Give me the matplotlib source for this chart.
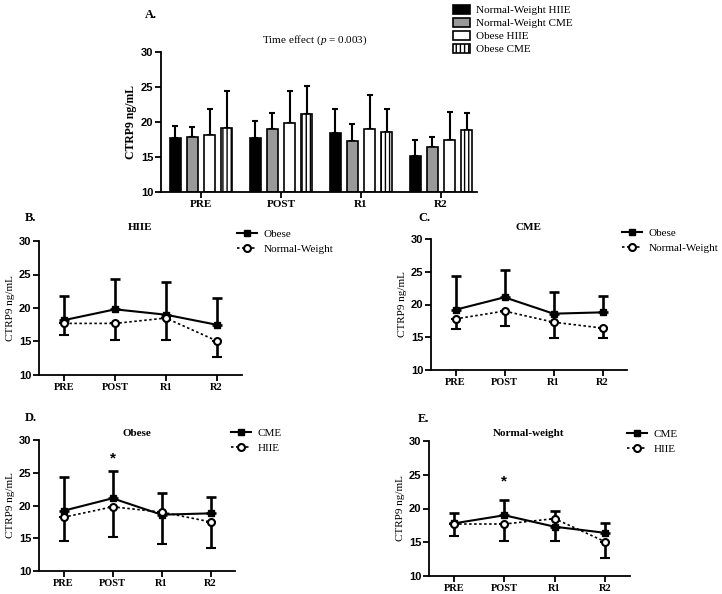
import matplotlib
matplotlib.use("Agg")
import matplotlib.pyplot as plt
import numpy as np
from matplotlib.patches import Patch
from matplotlib.lines import Line2D

# ---------------- data ----------------
times = ["PRE", "POST", "R1", "R2"]
nw_hiie = [17.7, 17.7, 18.5, 15.1]
nw_hiie_sd = [1.75, 2.45, 3.3, 2.4]
nw_cme = [17.8, 19.0, 17.3, 16.4]
nw_cme_sd = [1.55, 2.3, 2.4, 1.45]
ob_hiie = [18.2, 19.8, 19.0, 17.5]
ob_hiie_sd = [3.6, 4.6, 4.85, 4.0]
ob_cme = [19.2, 21.1, 18.6, 18.8]
ob_cme_sd = [5.2, 4.1, 3.3, 2.45]
bar_labels = ["Normal-Weight HIIE", "Normal-Weight CME", "Obese HIIE", "Obese CME"]

SERIF = ["Liberation Serif", "DejaVu Serif"]
SANS = ["Liberation Sans", "DejaVu Sans"]
plt.rcParams["font.family"] = SERIF
plt.rcParams["hatch.linewidth"] = 1.0
plt.rcParams["mathtext.fontset"] = "custom"
plt.rcParams["mathtext.rm"] = "Liberation Serif"
plt.rcParams["mathtext.it"] = "Liberation Serif:italic"

fig = plt.figure(figsize=(7.22, 5.94), dpi=100)
W, H = 722.0, 594.0


def ax_at(left, right, top, bottom):
    return fig.add_axes([left / W, 1 - bottom / H, (right - left) / W, (bottom - top) / H])


def style_axes(ax, ylabel_bold=False, ylabel_size=8):
    for s in ["top", "right"]:
        ax.spines[s].set_visible(False)
    for s in ["left", "bottom"]:
        ax.spines[s].set_linewidth(1.3)
    ax.set_ylim(10, 30)
    ax.set_yticks([10, 15, 20, 25, 30])
    ax.tick_params(axis="both", length=4, width=1.3, pad=1.5)
    for lab in ax.get_yticklabels():
        lab.set_fontfamily(SANS)
        lab.set_fontweight("bold")
        lab.set_fontsize(8)
    ax.set_ylabel("CTRP9 ng/mL", fontsize=ylabel_size,
                  fontweight="bold" if ylabel_bold else "normal", labelpad=3)


# ---------------- Panel A ----------------
axA = ax_at(161, 477, 52, 192)
x = np.arange(len(times))
offs = [-0.32, -0.107, 0.107, 0.32]
bw = 0.14
series = [(nw_hiie, nw_hiie_sd, "black", None),
          (nw_cme, nw_cme_sd, "#999999", None),
          (ob_hiie, ob_hiie_sd, "white", None),
          (ob_cme, ob_cme_sd, "white", "||||")]
handles = []
for (vals, sd, col, hatch), o, lab in zip(series, offs, bar_labels):
    axA.bar(x + o, np.array(vals) - 10, bw, bottom=10, color=col, edgecolor="black",
            linewidth=1.2, hatch=hatch, zorder=2)
    axA.errorbar(x + o, vals, yerr=[np.zeros(4), sd], fmt="none", ecolor="black",
                 elinewidth=1.5, capsize=2.5, capthick=1.5, zorder=1)
    handles.append(Patch(facecolor=col, edgecolor="black", hatch=hatch, linewidth=1.2, label=lab))
axA.set_xlim(-0.5, 3.45)
axA.set_xticks(x)
axA.set_xticklabels(times, fontweight="bold", fontsize=8)
style_axes(axA, ylabel_bold=True, ylabel_size=8.5)
axA.set_title("Time effect ($\\mathit{p}$ = 0.003)", fontsize=8, pad=7, x=(315 - 161) / (477 - 161))
fig.text(145 / W, 1 - 15 / H, "A.", fontsize=9, fontweight="bold", va="center", ha="left")
fig.legend(handles=handles, loc="upper left", bbox_to_anchor=(453 / W, 1 - 5 / H),
           frameon=False, fontsize=8, handlelength=1.5, handleheight=0.9,
           handletextpad=0.6, labelspacing=0.22, borderpad=0, borderaxespad=0)


# ---------------- line panels ----------------
def line_panel(box, letter, letter_xy, title, title_xy, v1, sd1, lab1, v2, sd2, lab2,
               legend_xy, star=None):
    ax = ax_at(*box)
    xx = np.arange(4)
    ax.errorbar(xx, v1, yerr=[np.zeros(4), sd1], color="black", lw=1.5, marker="s", ms=5,
                mfc="black", mec="black", elinewidth=1.9, capsize=3.5, capthick=1.9, zorder=3)
    ax.errorbar(xx, v2, yerr=[sd2, np.zeros(4)], color="black", lw=1.2, ls=(0, (1.5, 1.5)),
                marker="o", ms=5, mfc="white", mec="black", mew=1.5, elinewidth=1.9,
                capsize=3.5, capthick=1.9, zorder=4)
    ax.set_xlim(-0.5, 3.5)
    ax.set_xticks(xx)
    ax.set_xticklabels(times, fontweight="bold", fontsize=7.5)
    style_axes(ax)
    fig.text(letter_xy[0] / W, 1 - letter_xy[1] / H, letter, fontsize=9, fontweight="bold",
             va="center", ha="left")
    fig.text(title_xy[0] / W, 1 - title_xy[1] / H, title, fontsize=8, fontweight="bold",
             va="center", ha="center")
    hs = [Line2D([], [], color="black", lw=1.5, marker="s", ms=5),
          Line2D([], [], color="black", lw=1.2, ls=(0, (1.5, 1.5)), marker="o", ms=5,
                 mfc="white", mew=1.5)]
    fig.legend(handles=hs, labels=[lab1, lab2], loc="upper left",
               bbox_to_anchor=(legend_xy[0] / W, 1 - legend_xy[1] / H), frameon=False,
               fontsize=8, handlelength=1.8, handletextpad=0.6, labelspacing=0.45,
               borderpad=0, borderaxespad=0)
    if star is not None:
        ax.text(star[0], star[1], "*", fontsize=11, fontweight="bold", ha="center", va="center",
                fontfamily=SANS)
    return ax


line_panel((39, 242, 241, 375), "B.", (25, 218), "HIIE", (140, 228),
           ob_hiie, ob_hiie_sd, "Obese", nw_hiie, nw_hiie_sd, "Normal-Weight", (237, 229))
line_panel((431, 627, 239, 370), "C.", (418, 218), "CME", (529, 227),
           ob_cme, ob_cme_sd, "Obese", nw_cme, nw_cme_sd, "Normal-Weight", (622, 228))
line_panel((39, 235, 440, 571), "D.", (25, 418), "Obese", (137, 433),
           ob_cme, ob_cme_sd, "CME", ob_hiie, ob_hiie_sd, "HIIE", (231, 428), star=(1, 27.2))
line_panel((429, 630, 441, 576), "E.", (418, 419), "Normal-weight", (529, 434),
           nw_cme, nw_cme_sd, "CME", nw_hiie, nw_hiie_sd, "HIIE", (627, 429), star=(1, 24.0))

fig.savefig("out.png", dpi=100)
